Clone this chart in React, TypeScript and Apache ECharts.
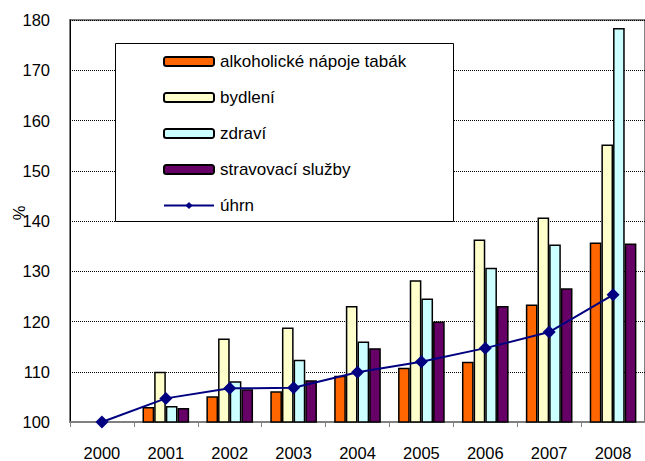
import React, { useEffect, useRef } from "react";
import * as echarts from "echarts";

const years = ["2000", "2001", "2002", "2003", "2004", "2005", "2006", "2007", "2008"];
const alkohol = [100, 103.0, 105.1, 106.1, 109.2, 110.8, 112.0, 123.4, 135.7];
const bydleni = [100, 110.0, 116.6, 118.8, 123.1, 128.2, 136.3, 140.7, 155.2];
const zdravi = [100, 103.2, 108.1, 112.4, 116.0, 124.6, 130.7, 135.3, 178.4];
const stravovani = [100, 102.8, 106.5, 108.3, 114.7, 120.0, 123.1, 126.6, 135.5];
const uhrn = [100, 104.7, 106.7, 106.8, 109.9, 112.0, 114.7, 117.9, 125.3];

const FONT = "Liberation Sans, Arial, sans-serif";

export default function App() {
  const ref = useRef<HTMLDivElement>(null);
  useEffect(() => {
    if (!ref.current) return;
    const chart = echarts.init(ref.current, undefined, { renderer: "svg" });
    const barStyle = (color: string) => ({
      color,
      borderColor: "#000000",
      borderWidth: 1.5,
    });
    chart.setOption({
      animation: false,
      backgroundColor: "#ffffff",
      textStyle: { fontFamily: FONT },
      grid: {
        left: 70,
        top: 20,
        width: 578,
        height: 403,
        show: true,
        borderColor: "#808080",
        borderWidth: 2,
        backgroundColor: "transparent",
      },
      xAxis: {
        type: "category",
        data: years,
        axisLine: { lineStyle: { color: "#808080", width: 2 } },
        axisTick: { show: true, length: 5, lineStyle: { color: "#808080", width: 1 } },
        axisLabel: { color: "#000000", fontSize: 16.5, fontFamily: FONT, margin: 22 },
      },
      yAxis: {
        type: "value",
        min: 100,
        max: 180,
        interval: 10,
        axisLine: { show: true, lineStyle: { color: "#000000", width: 1 } },
        axisTick: { show: false },
        axisLabel: { color: "#000000", fontSize: 16.5, fontFamily: FONT, margin: 20 },
        splitLine: { show: true, lineStyle: { color: "#000000", type: "dotted", width: 1 } },
      },
      graphic: [
        {
          type: "rect",
          z: 3,
          shape: { x: 115.5, y: 43.5, width: 338, height: 178 },
          style: { fill: "#ffffff", stroke: "#000000", lineWidth: 1 },
        },
        {
          type: "text",
          x: 19,
          y: 213,
          rotation: Math.PI / 2,
          style: {
            text: "%",
            font: "16.5px " + FONT,
            fill: "#000000",
            align: "center",
            verticalAlign: "middle",
          },
        },
      ],
      legend: {
        orient: "vertical",
        left: 163,
        top: 53,
        padding: 0,
        itemWidth: 50,
        itemHeight: 9,
        itemGap: 19,
        z: 5,
        textStyle: { fontSize: 17, lineHeight: 17, color: "#000000", fontFamily: FONT, padding: [0, 0, 0, 1] },
        data: [
          { name: "alkoholické nápoje tabák" },
          { name: "bydlení" },
          { name: "zdraví" },
          { name: "stravovací služby" },
          { name: "úhrn" },
        ],
      },
      series: [
        {
          name: "alkoholické nápoje tabák",
          type: "bar",
          data: alkohol,
          barGap: "0%",
          barCategoryGap: "27%",
          itemStyle: barStyle("#FF6600"),
        },
        {
          name: "bydlení",
          type: "bar",
          data: bydleni,
          itemStyle: barStyle("#FFFFCC"),
        },
        {
          name: "zdraví",
          type: "bar",
          data: zdravi,
          itemStyle: barStyle("#CCFFFF"),
        },
        {
          name: "stravovací služby",
          type: "bar",
          data: stravovani,
          itemStyle: barStyle("#660066"),
        },
        {
          name: "úhrn",
          type: "line",
          data: uhrn,
          z: 6,
          symbol: "diamond",
          symbolSize: [13, 13],
          lineStyle: { color: "#000080", width: 2 },
          itemStyle: { color: "#000080" },
        },
      ],
    });
    return () => chart.dispose();
  }, []);
  return (
    <div
      ref={ref}
      style={{ position: "absolute", left: 0, top: 0, width: 645, height: 461 }}
    />
  );
}
